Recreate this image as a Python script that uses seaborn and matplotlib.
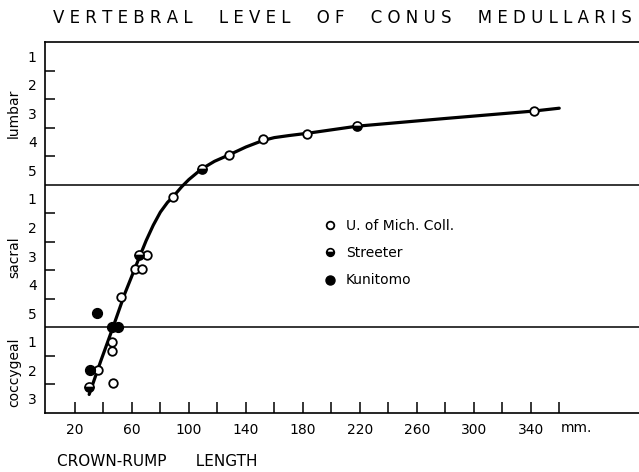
import matplotlib
matplotlib.use("Agg")
import matplotlib.pyplot as plt
import seaborn as sns
from matplotlib.lines import Line2D

sns.set_style("ticks")
plt.rcParams['font.family'] = ['DejaVu Sans']
plt.rcParams['text.color'] = 'black'
plt.rcParams['xtick.color'] = 'black'
plt.rcParams['ytick.color'] = 'black'
plt.rcParams['axes.edgecolor'] = 'black'

# vertebral level counted from the top: lumbar 1-5 -> 0-5, sacral 1-5 -> 5-10, coccygeal 1-3 -> 10-13
mich_x = [88.6, 128, 152, 183, 342, 70.7, 62.1, 66.8, 52.1, 45.8, 46.2, 35.9, 46.9]
mich_y = [5.44, 3.96, 3.41, 3.21, 2.42, 7.46, 7.96, 7.96, 8.95, 10.50, 10.82, 11.49, 11.94]

streeter_x = [108.9, 217.7, 29.8, 64.9]
streeter_y = [4.45, 2.94, 12.10, 7.46]

kunitomo_x = [35.2, 46.0, 50.0, 30.5]
kunitomo_y = [9.51, 10.0, 10.0, 11.49]

# hand-drawn fitted curve
curve_x = [30, 38, 46.7, 55, 65.6, 70, 75, 80, 85, 88.6, 95, 100, 108.9, 118, 128, 140, 152,
           160, 170, 183, 218, 280, 342, 360]
curve_y = [12.35, 11.2, 10.0, 8.82, 7.5, 6.96, 6.42, 5.96, 5.62, 5.44, 5.07, 4.82, 4.45, 4.18,
           3.96, 3.68, 3.45, 3.35, 3.28, 3.2, 2.95, 2.68, 2.42, 2.32]

level_labels = ['1', '2', '3', '4', '5', '1', '2', '3', '4', '5', '1', '2', '3']
x_ticks = list(range(20, 361, 20))
x_labeled = [20, 60, 100, 140, 180, 220, 260, 300, 340]

fig = plt.figure(figsize=(6.39, 4.72), dpi=100)
ax = fig.add_axes([45 / 639, 1 - 413 / 472, 1 - 45 / 639, (413 - 42) / 472])

sns.lineplot(x=curve_x, y=curve_y, sort=False, estimator=None, color='black', lw=2.3, ax=ax, zorder=2)
sns.scatterplot(x=mich_x, y=mich_y, marker='o', s=38, facecolor='white', edgecolor='black',
                linewidth=1.3, ax=ax, zorder=3)
sns.scatterplot(x=kunitomo_x, y=kunitomo_y, marker='o', s=50, color='black', edgecolor='black',
                linewidth=1, ax=ax, zorder=3)
ax.plot(streeter_x, streeter_y, 'o', ms=6.5, mfc='black', markerfacecoloralt='white',
        fillstyle='bottom', mec='black', mew=1.2, zorder=4)

ax.axhline(5, color='black', lw=1.1)
ax.axhline(10, color='black', lw=1.1)

ax.set_xlim(-1, 416)
ax.set_ylim(13, 0)
for s in ['left', 'bottom', 'top']:
    ax.spines[s].set_linewidth(1.2)
ax.spines['right'].set_visible(False)

ax.set_yticks([1, 2, 3, 4, 6, 7, 8, 9, 11, 12])
ax.set_yticklabels([])
ax.set_yticks([i + 0.5 for i in range(13)], minor=True)
ax.set_yticklabels(level_labels, minor=True)
ax.tick_params(axis='y', which='major', direction='in', length=7, width=1.1)
ax.tick_params(axis='y', which='minor', length=0, pad=6, labelsize=10)

ax.set_xticks(x_ticks)
ax.set_xticklabels([str(v) if v in x_labeled else '' for v in x_ticks])
ax.tick_params(axis='x', direction='in', length=8, width=1.1, pad=7, labelsize=10)
ax.set_xlabel('')
ax.set_ylabel('')

words = ['VERTEBRAL', 'LEVEL', 'OF', 'CONUS', 'MEDULLARIS']
title = '     '.join(' '.join(w) for w in words)
fig.text(342 / 639, 1 - 18 / 472, title, ha='center', va='center', fontsize=12)
fig.text(57 / 639, 1 - 462 / 472, 'CROWN-RUMP      LENGTH', ha='left', va='center', fontsize=11)
fig.text(561 / 639, 1 - 428 / 472, 'mm.', ha='left', va='center', fontsize=10)

fig.text(14 / 639, 1 - 113 / 472, 'lumbar', rotation=90, ha='center', va='center', fontsize=10)
fig.text(14 / 639, 1 - 257 / 472, 'sacral', rotation=90, ha='center', va='center', fontsize=10)
fig.text(14 / 639, 1 - 372 / 472, 'coccygeal', rotation=90, ha='center', va='center', fontsize=10)

handles = [
    Line2D([], [], ls='', marker='o', ms=5.5, mfc='white', mec='black', mew=1.3),
    Line2D([], [], ls='', marker='o', ms=5.5, mfc='black', markerfacecoloralt='white',
           fillstyle='bottom', mec='black', mew=1.2),
    Line2D([], [], ls='', marker='o', ms=6.5, mfc='black', mec='black'),
]
ax.legend(handles, ['U. of Mich. Coll.', 'Streeter', 'Kunitomo'], loc='upper left',
          bbox_to_anchor=(323 / 639, 1 - 219 / 472), bbox_transform=fig.transFigure,
          frameon=False, handlelength=1, handletextpad=0.64, labelspacing=0.95,
          borderpad=0, borderaxespad=0, fontsize=10)

fig.savefig('out.png', dpi=100)
